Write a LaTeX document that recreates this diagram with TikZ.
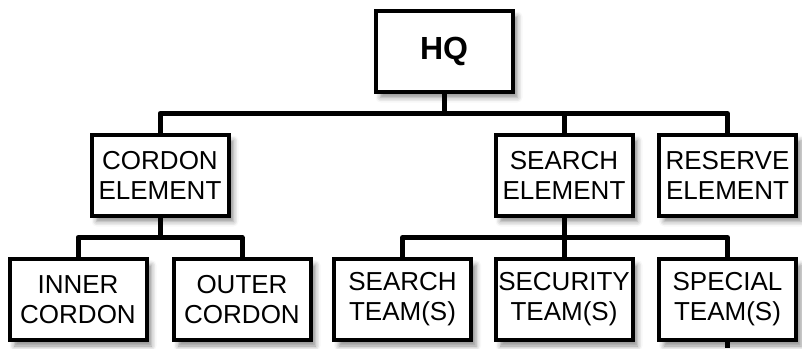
\documentclass[tikz,border=0pt]{standalone}
\usepackage{fontspec}
\setmainfont{Liberation Sans}
\usetikzlibrary{shadows.blur}

\begin{document}
\begin{tikzpicture}[x=1pt,y=-1pt,
    unit/.style={draw, line width=4pt, fill=white, align=center, inner sep=0pt,
        minimum width=137pt, minimum height=81pt,
        font=\fontsize{26}{30}\selectfont,
        blur shadow={shadow xshift=5pt, shadow yshift=-6pt, shadow blur radius=5pt,
            shadow opacity=45}},
    link/.style={line width=5pt, line join=round}]

    \useasboundingbox (0,0) rectangle (802,348);

    % Headquarters
    \node[unit, font=\fontsize{32}{36}\selectfont\bfseries] (hq) at (444,51) {HQ};

    % Elements
    \node[unit] (cordon) at (160,175) {CORDON\\ELEMENT};
    \node[unit] (search) at (564,175) {SEARCH\\ELEMENT};
    \node[unit] (reserve) at (727.5,175) {RESERVE\\ELEMENT};

    % Teams
    \node[unit] (inner) at (78,299.5) {INNER\\CORDON};
    \node[unit] (outer) at (242,299.5) {OUTER\\CORDON};
    \node[unit] (searchteam) at (402.5,299.5) {SEARCH\\TEAM(S)};
    \node[unit] (security) at (564,299.5) {SECURITY\\TEAM(S)};
    \node[unit] (special) at (727.5,299.5) {SPECIAL\\TEAM(S)};

    % Lines from HQ to the elements
    \draw[link] (hq.south) -- ++(0,20) -| (cordon.north);
    \draw[link] (hq.south) -- ++(0,20) -| (search.north);
    \draw[link] (hq.south) -- ++(0,20) -| (reserve.north);

    % Lines from the cordon element
    \draw[link] (cordon.south) -- ++(0,20) -| (inner.north);
    \draw[link] (cordon.south) -- ++(0,20) -| (outer.north);

    % Lines from the search element
    \draw[link] (search.south) -- ++(0,20) -| (searchteam.north);
    \draw[link] (search.south) -- (security.north);
    \draw[link] (search.south) -- ++(0,20) -| (special.north);

    % Line leaving the special team
    \coordinate (below) at (727.5,348);
    \draw[link] (special.south) -- (below);

\end{tikzpicture}
\end{document}
